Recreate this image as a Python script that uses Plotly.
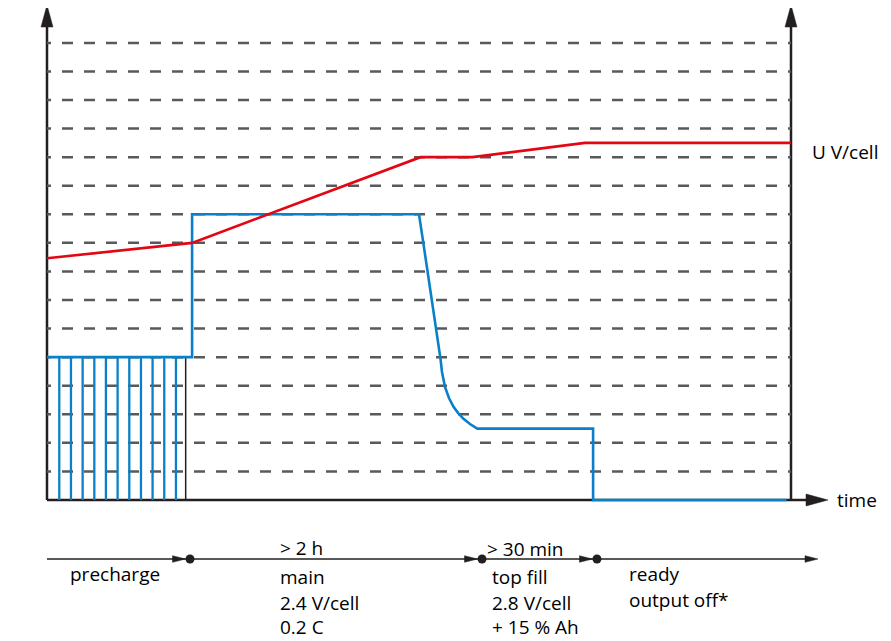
import plotly.graph_objects as go

# ---------------- data (time in % of the chart width, levels in grid steps) ----------------
grid_levels = list(range(1, 17))

pulse_times = [1.65, 3.22, 4.79, 6.36, 7.92, 9.49, 11.06, 12.63, 14.19, 15.76, 17.33]
pulse_level = 5
precharge_end = 18.64

current_t = [0, 19.5, 19.5, 50.0, 50.58, 51.48, 52.08, 52.55, 52.89, 53.09, 53.49, 54.03,
             54.64, 55.24, 55.98, 56.85, 57.84, 73.4, 73.4, 99.4]
current_lvl = [5, 5, 10, 10.0, 9.0, 7.46, 6.48, 5.6, 4.94, 4.48, 3.96, 3.57,
               3.26, 3.05, 2.84, 2.66, 2.5, 2.5, 0, 0]

voltage_t = [0, 19.5, 50.2, 57.2, 72.3, 100]
voltage_lvl = [8.46, 9.0, 12.0, 12.0, 12.5, 12.5]

phase_bounds = [19.22, 58.47, 73.92]

# ---------------- pixel helpers (layout only) ----------------
PAGE_OFF = 8                     # browser body margin
W, H = 891 - PAGE_OFF, 641 - PAGE_OFF
X0_PX, X1_PX = 47, 791
Y0_PX, DY_PX = 500, 28.57


def tx(px):
    return (px - X0_PX) / (X1_PX - X0_PX) * 100


def ly(py):
    return (Y0_PX - py) / DY_PX


PX_T = (X1_PX - X0_PX) / 100.0  # px per time unit

INK = "#231f20"
BLUE = "#0a80c8"
RED = "#e30613"
GRID = "#58595b"

fig = go.Figure()

# grid lines
dash_pat = "4px,11px" + ",11px,11px" * 40
for lv in grid_levels:
    fig.add_trace(go.Scatter(x=[0, 100], y=[lv, lv], mode="lines",
                             line=dict(color=GRID, width=2.5, dash=dash_pat),
                             hoverinfo="skip", showlegend=False))

# precharge pulses
px_, py_ = [], []
for t in pulse_times:
    px_ += [t, t, None]
    py_ += [0, pulse_level, None]
fig.add_trace(go.Scatter(x=px_, y=py_, mode="lines", line=dict(color=BLUE, width=2.3),
                         hoverinfo="skip", showlegend=False))
fig.add_trace(go.Scatter(x=[precharge_end, precharge_end], y=[0, pulse_level], mode="lines",
                         line=dict(color=INK, width=1.5), hoverinfo="skip", showlegend=False))

# current
fig.add_trace(go.Scatter(x=current_t, y=current_lvl, mode="lines",
                         line=dict(color=BLUE, width=2.6), hoverinfo="skip", showlegend=False))
# voltage
fig.add_trace(go.Scatter(x=voltage_t, y=voltage_lvl, mode="lines",
                         line=dict(color=RED, width=2.6), hoverinfo="skip", showlegend=False))

# timeline dots
tl_y = ly(559)
fig.add_trace(go.Scatter(x=phase_bounds, y=[tl_y] * len(phase_bounds), mode="markers",
                         marker=dict(color=INK, size=9), hoverinfo="skip", showlegend=False))

shapes = []


def line(x0, y0, x1, y1, w):
    shapes.append(dict(type="line", xref="x", yref="y", x0=x0, y0=y0, x1=x1, y1=y1,
                       line=dict(color=INK, width=w), layer="below"))


def tri(tip_x, tip_y, direction, length_px, half_px):
    if direction == "up":
        bx = [tip_x - half_px / PX_T, tip_x + half_px / PX_T]
        by = tip_y - length_px / DY_PX
        path = f"M {tip_x},{tip_y} L {bx[0]},{by} L {bx[1]},{by} Z"
    else:
        bxx = tip_x - length_px / PX_T
        path = (f"M {tip_x},{tip_y} L {bxx},{tip_y + half_px / DY_PX} "
                f"L {bxx},{tip_y - half_px / DY_PX} Z")
    shapes.append(dict(type="path", xref="x", yref="y", path=path,
                       fillcolor=INK, line=dict(color=INK, width=0.5), layer="below"))


# axes
line(0, 0, 0, ly(26), 2.5)
tri(0, ly(5), "up", 22, 6)
line(100, 0, 100, ly(26), 2.5)
tri(100, ly(5), "up", 22, 6)
line(0, 0, tx(810), 0, 2.5)
tri(tx(828), 0, "right", 22, 6)

# timeline
line(0, tl_y, tx(810), tl_y, 1.6)
tri(tx(818), tl_y, "right", 13, 3.3)
for b in phase_bounds:
    tri(b - 4.5 / PX_T, tl_y, "right", 13, 3.3)

FONT = "Open Sans"
FS = 19
annos = []


def text(s, left_px, base_px):
    annos.append(dict(text=s, x=tx(left_px), y=ly(base_px - 6.5), xref="x", yref="y",
                      xanchor="left", yanchor="middle", showarrow=False,
                      font=dict(family=FONT, size=FS, color="#000000")))


text("I\u00a0 C", 6, 386)
text("U V/cell", 810, 158)
text("time", 835, 506)
text("precharge", 68, 580)
text("&gt; 2 h", 278, 554)
text("main", 278, 583)
text("2.4 V/cell", 278, 609)
text("0.2 C", 278, 633.5)
text("&gt; 30 min", 485, 555)
text("top fill", 490, 583)
text("2.8 V/cell", 490, 609)
text("+ 15 % Ah", 490, 633.5)
text("ready", 627, 580)
text("output off*", 627, 606)

fig.update_layout(
    width=W, height=H, autosize=False,
    margin=dict(l=0, r=0, t=0, b=0),
    paper_bgcolor="white", plot_bgcolor="white",
    xaxis=dict(range=[tx(PAGE_OFF), tx(891)], visible=False, fixedrange=True),
    yaxis=dict(range=[ly(641), ly(PAGE_OFF)], visible=False, fixedrange=True),
    shapes=shapes, annotations=annos, showlegend=False,
)

fig.write_html("out.html")
